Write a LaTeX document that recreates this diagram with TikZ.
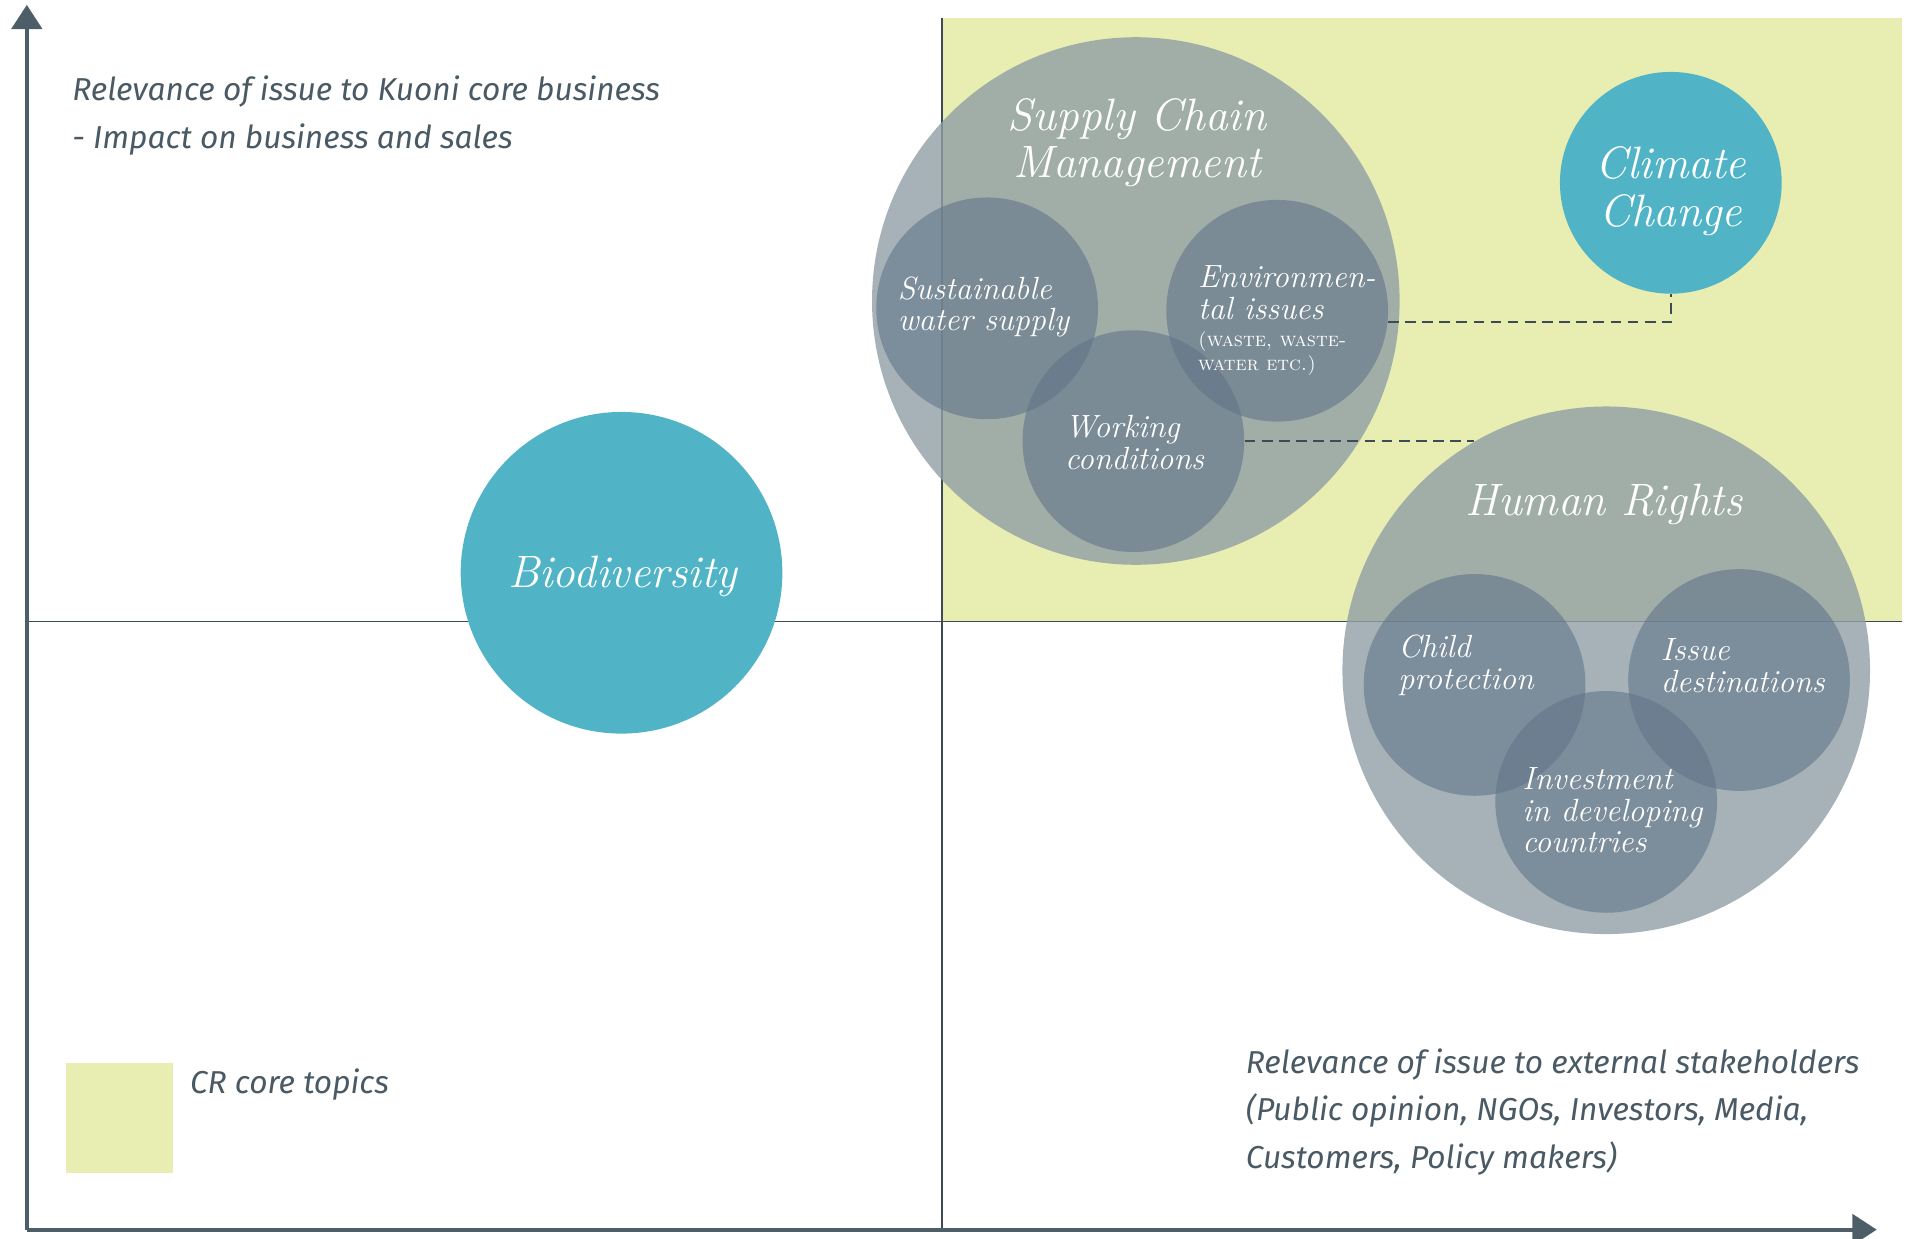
\documentclass[tikz,border=0pt]{standalone}
\usepackage{fontspec}
\setsansfont{Fira Sans}
\usetikzlibrary{positioning,arrows.meta}
\definecolor{axisgrey}{HTML}{4D5E68}
\definecolor{textgrey}{HTML}{4A5A64}
\definecolor{coreyellow}{HTML}{E8EDB2}
\definecolor{bubbleteal}{HTML}{50B4C6}
\definecolor{slate}{HTML}{909FA6}
\definecolor{darkslate}{HTML}{617589}
\newcommand{\smallnote}{\fontsize{9.3}{11}\selectfont\upshape\scshape}

\begin{document}
\begin{tikzpicture}[
            x=0.02cm, y=-0.02cm,
            topic/.style = {circle, fill=bubbleteal, inner sep=0pt},
            group/.style = {circle, fill=slate, fill opacity=0.8, minimum size=8.66cm, inner sep=0pt},
            issue/.style = {circle, fill=darkslate, fill opacity=0.6, minimum size=3.64cm, inner sep=0pt},
            biglabel/.style = {text=white, inner sep=0pt, align=center,
                   font=\fontsize{21.2}{21.6}\selectfont\itshape},
            smalllabel/.style = {text=white, inner sep=0pt, align=left,
                   font=\fontsize{15}{14.8}\selectfont\itshape},
            axislabel/.style = {text=textgrey, inner sep=0pt, align=left, anchor=north west,
                   font=\fontsize{14.8}{22.2}\selectfont\sffamily\itshape},
            axis/.style = {draw=axisgrey, line width=2pt, -{Triangle[length=0.4cm,width=0.5cm]}},
            divider/.style = {draw=axisgrey!80!black, line width=0.8pt},
            link/.style = {draw=axisgrey!80!black, line width=0.9pt, dash pattern=on 5pt off 3pt}
        ]
            \useasboundingbox (0,0) rectangle (1564,1016);

            % core quadrant
            \fill [coreyellow] (773,15) rectangle (1561,510);
            \node [fill=coreyellow, minimum width=1.76cm, minimum height=1.8cm, anchor=north west] (legendbox) at (54,872) {};
            \node [axislabel] (legendtext) at ([xshift=0.26cm,yshift=-0.1cm]legendbox.north east) {CR core topics};

            % axes
            \coordinate (origin) at (22,1009);
            \coordinate (ytip) at (22,4);
            \coordinate (xtip) at (1540,1009);
            \coordinate (vtop) at (773,15);
            \coordinate (vbottom) at (773,1009);
            \coordinate (hleft) at (22,510);
            \coordinate (hright) at (1561,510);
            \draw [divider] (vtop) -- (vbottom);
            \draw [divider] (hleft) -- (hright);
            \draw [axis] (origin) -- (ytip);
            \draw [axis] (origin) -- (xtip);

            \node [axislabel] (ylabel) at (59,62) {Relevance of issue to Kuoni core business\\- Impact on business and sales};
            \node [axislabel] (xlabel) at (1022,860) {Relevance of issue to external stakeholders\\(Public opinion, NGOs, Investors, Media,\\Customers, Policy makers)};

            % bubbles
            \node [topic, minimum size=5.28cm] (bio) at (510,470) {};
            \node [topic, minimum size=3.64cm] (climate) at (1371,150) {};
            \node [group] (scm) at (932,247) {};
            \node [issue] (water) at (810,253) {};
            \node [issue] (env) at (1048,255) {};
            \node [issue] (work) at (930,362) {};
            \node [group] (hr) at (1318,550) {};
            \node [issue] (child) at (1210,562) {};
            \node [issue] (dest) at (1427,558) {};
            \node [issue] (invest) at (1318,658) {};

            % labels
            \node [biglabel] (biolabel) at (511,473) {Biodiversity};
            \node [biglabel, font=\fontsize{21.2}{22.7}\selectfont\itshape] (climatelabel) at (1371,157) {Climate\\Change};
            \node [biglabel] (scmlabel) at (933,117) {Supply Chain\\Management};
            \node [biglabel] (hrlabel) at (1316,414) {Human Rights};
            \node [smalllabel] (waterlabel) at (807,252) {Sustainable\\water supply};
            \node [smalllabel] (envlabel) at (1056,263) {Environmen-\\tal issues\\[-2pt]{\smallnote (waste, waste-}\\[-4pt]{\smallnote water etc.)}};
            \node [smalllabel] (worklabel) at (931,363) {Working\\conditions};
            \node [smalllabel] (childlabel) at (1203,546) {Child\\protection};
            \node [smalllabel] (destlabel) at (1430,546) {Issue\\destinations};
            \node [smalllabel] (investlabel) at (1323,665) {Investment\\in developing\\countries};

            % Draw edges
            \draw [link] (env.-6) -| (climate.south);
            \draw [link] (work.east) -- (work.east -| hr.120.5);
        \end{tikzpicture}
\end{document}
